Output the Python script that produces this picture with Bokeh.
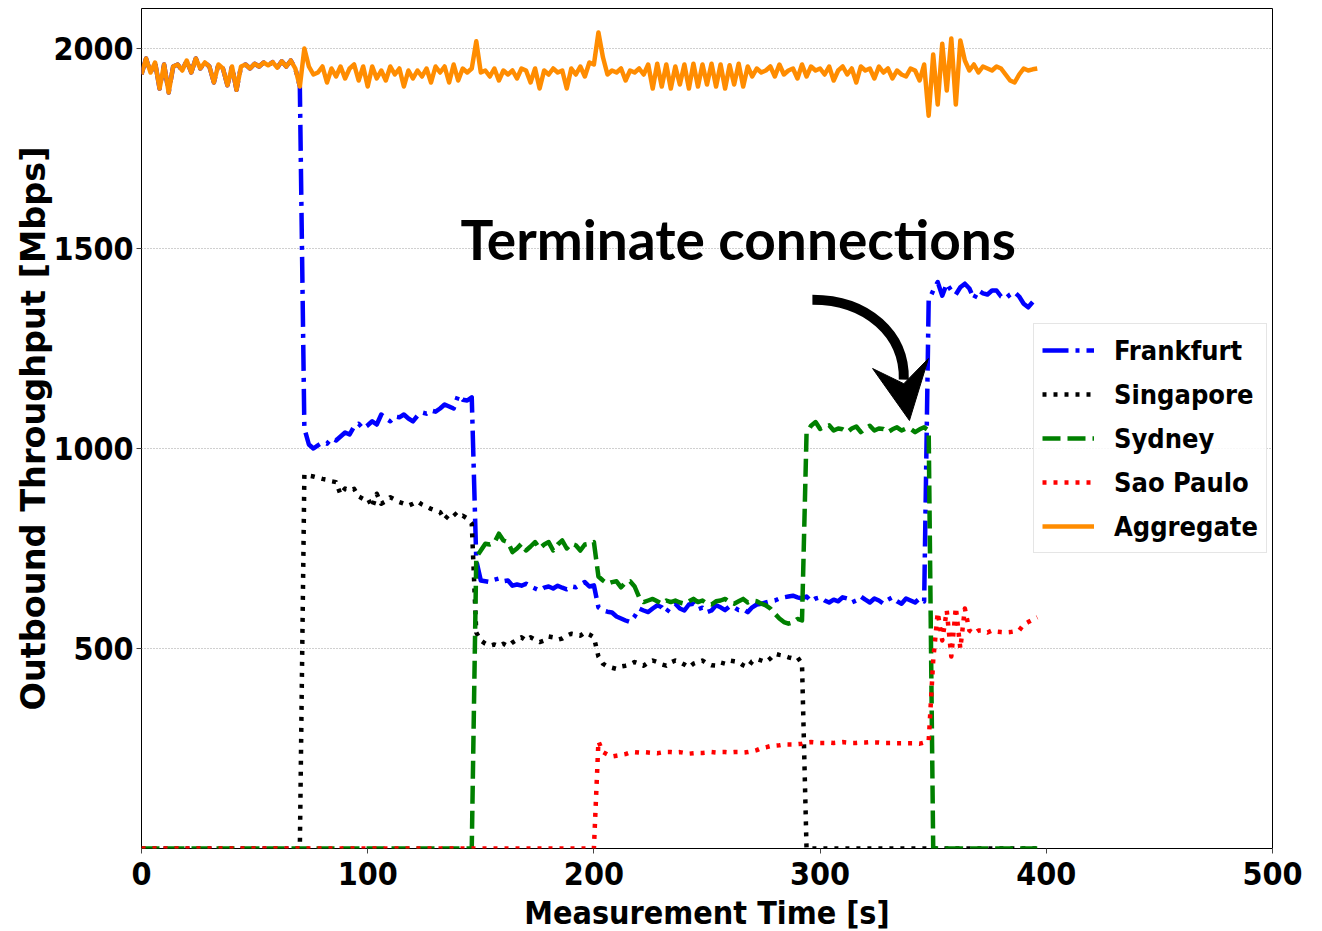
from bokeh.plotting import figure
from bokeh.models import Range1d, FixedTicker, Legend, LegendItem, Label
from bokeh.embed import file_html
from bokeh.resources import INLINE

# ---------------- data (sampled every 2 s) ----------------
t = list(range(0, 397, 2))

frankfurt = [
    1935, 1975, 1940, 1965, 1900, 1960, 1890, 1955, 1960, 1945, 1970, 1940, 1975, 1950, 1965, 1955,
    1915, 1960, 1950, 1908, 1955, 1897, 1955, 1960, 1950, 1962, 1955, 1965, 1958, 1966, 1952, 1968,
    1955, 1970, 1950, 1905,
    1050, 1010, 1000, 1008, 1015, 1012, 1025, 1020, 1030, 1040, 1035, 1055, 1062, 1050, 1058, 1068,
    1060, 1085, 1075, 1068, 1080, 1078, 1085, 1075, 1068, 1082, 1090, 1087, 1095, 1092, 1100, 1110,
    1105, 1100, 1133, 1122, 1120, 1128,
    720, 670, 668, 666, 672, 675, 668, 670, 657, 660, 657, 662, 655, 650, 645, 652,
    655, 650, 657, 652, 648, 655, 653, 660, 666, 655, 658,
    603, 595, 592, 590, 580, 575, 570, 566, 580, 600, 595, 591, 600, 608, 603, 590,
    605, 612, 600, 595, 610, 612, 598, 602, 591, 595, 608, 603, 596, 605, 603, 596,
    598, 591, 603, 610, 612, 615, 618, 620, 625, 628, 630, 632,
    628, 625, 630, 618, 625, 628, 620, 615, 622, 618, 628, 625, 615, 620, 630, 622,
    615, 625, 620, 612, 622, 628, 618, 612, 625, 620, 615, 625, 618,
    1370, 1395, 1416, 1382, 1412, 1395, 1385, 1403, 1412, 1400, 1374, 1395, 1388, 1385, 1395, 1395,
    1380, 1375, 1385, 1391, 1380, 1362, 1353, 1366,
]

singapore = [
    0, 0, 0, 0, 0, 0, 0, 0, 0, 0, 0, 0, 0, 0, 0, 0, 0, 0, 0, 0, 0, 0, 0, 0, 0, 0, 0, 0, 0, 0, 0, 0,
    0, 0, 0, 0,
    935, 932, 930, 927, 924, 922, 918, 916, 885, 900, 895, 899, 880, 874, 876, 853,
    887, 862, 868, 878, 872, 866, 862, 857, 862, 868, 860, 855, 849, 845, 841, 822,
    835, 840, 828, 832, 825, 812,
    540, 520, 512, 507, 510, 506, 512, 506, 515, 522, 528, 520, 528, 522, 516, 520,
    530, 528, 522, 525, 532, 537, 535, 532, 540, 535, 528,
    480, 462, 455, 452, 449, 455, 457, 460, 466, 462, 457, 465, 470, 466, 460, 457,
    465, 470, 466, 460, 453, 462, 466, 470, 462, 458, 457, 465, 462, 470, 468, 466,
    458, 453, 468, 474, 470, 466, 475, 487, 484, 482, 478, 475, 478, 462,
    0, 0, 0, 0, 0, 0, 0, 0, 0, 0, 0, 0, 0, 0, 0, 0, 0, 0, 0, 0, 0, 0, 0, 0, 0, 0, 0, 0, 0, 0, 0, 0,
    0, 0, 0, 0, 0, 0, 0, 0, 0, 0, 0, 0, 0, 0, 0, 0, 0, 0, 0, 0, 0,
]

sydney = [
    0, 0, 0, 0, 0, 0, 0, 0, 0, 0, 0, 0, 0, 0, 0, 0, 0, 0, 0, 0, 0, 0, 0, 0, 0, 0, 0, 0, 0, 0, 0, 0,
    0, 0, 0, 0, 0, 0, 0, 0, 0, 0, 0, 0, 0, 0, 0, 0, 0, 0, 0, 0, 0, 0, 0, 0, 0, 0, 0, 0, 0, 0, 0, 0,
    0, 0, 0, 0, 0, 0, 0, 0, 0, 0,
    728, 745, 762, 760, 765, 787, 770, 766, 741, 750, 762, 745, 755, 766, 750, 760,
    766, 745, 760, 770, 750, 762, 758, 745, 760, 762, 766,
    680, 670, 662, 666, 668, 653, 665, 668, 655, 628, 616, 620, 624, 618, 612, 620,
    616, 620, 615, 612, 618, 624, 616, 620, 612, 610, 618, 620, 624, 616, 612, 618,
    624, 615, 620, 618, 612, 608, 600, 587, 575, 566, 562, 565, 574, 570,
    1037, 1057, 1066, 1049, 1055, 1058, 1045, 1050, 1048, 1041, 1050, 1055, 1041, 1050, 1057, 1045,
    1050, 1049, 1041, 1048, 1053, 1045, 1050, 1049, 1041, 1048, 1053, 1045,
    0, 0, 0, 0, 0, 0, 0, 0, 0, 0, 0, 0, 0, 0, 0, 0, 0, 0, 0, 0, 0, 0, 0, 0,
]

sao_paulo = [
    0, 0, 0, 0, 0, 0, 0, 0, 0, 0, 0, 0, 0, 0, 0, 0, 0, 0, 0, 0, 0, 0, 0, 0, 0, 0, 0, 0, 0, 0, 0, 0,
    0, 0, 0, 0, 0, 0, 0, 0, 0, 0, 0, 0, 0, 0, 0, 0, 0, 0, 0, 0, 0, 0, 0, 0, 0, 0, 0, 0, 0, 0, 0, 0,
    0, 0, 0, 0, 0, 0, 0, 0, 0, 0, 0, 0, 0, 0, 0, 0, 0, 0, 0, 0, 0, 0, 0, 0, 0, 0, 0, 0, 0, 0, 0, 0,
    0, 0, 0, 0, 0,
    268, 241, 235, 230, 232, 234, 236, 240, 241, 240, 241, 240, 239, 238, 240, 241,
    241, 240, 241, 239, 237, 238, 239, 239, 240, 241, 240, 241, 241, 240, 241, 241,
    240, 241, 243, 246, 251, 253, 256, 257, 258, 260, 260, 260, 261, 262, 265, 266,
    265, 264, 264, 265, 264, 265, 266, 265, 264, 264, 265, 265, 266, 265, 265, 264,
    264, 264, 263, 263, 263, 263, 263, 262, 265, 268,
    470, 590, 520, 595, 480, 603, 500, 600, 545, 537, 545, 545, 540, 545, 542, 541,
    540, 541, 543, 545, 560, 566, 572, 578,
]

aggregate = [
    1935, 1975, 1940, 1965, 1900, 1960, 1890, 1955, 1960, 1945, 1970, 1940, 1975, 1950, 1965, 1955,
    1915, 1960, 1950, 1908, 1955, 1897, 1955, 1960, 1950, 1962, 1955, 1965, 1958, 1966, 1952, 1968,
    1955, 1970, 1950, 1905, 2000, 1955, 1935, 1940, 1955, 1915, 1950, 1930, 1955, 1925, 1950, 1960,
    1920, 1955, 1905, 1955, 1925, 1945, 1920, 1955, 1935, 1950, 1905, 1945, 1925, 1945, 1930, 1950,
    1915, 1955, 1940, 1955, 1915, 1960, 1920, 1950, 1940, 1950, 2018, 1940, 1945, 1930, 1950, 1920,
    1945, 1935, 1945, 1925, 1950, 1945, 1915, 1950, 1900, 1945, 1935, 1950, 1940, 1945, 1900, 1950,
    1935, 1955, 1930, 1965, 1960, 2040, 1978, 1935, 1945, 1940, 1950, 1920, 1945, 1940, 1950, 1935,
    1960, 1900, 1962, 1905, 1960, 1900, 1955, 1910, 1960, 1900, 1962, 1905, 1960, 1910, 1962, 1905,
    1960, 1900, 1958, 1910, 1962, 1905, 1955, 1930, 1950, 1940, 1945, 1955, 1930, 1960, 1935, 1945,
    1950, 1925, 1960, 1930, 1955, 1945, 1950, 1935, 1955, 1920, 1945, 1955, 1935, 1950, 1915, 1955,
    1945, 1950, 1925, 1955, 1940, 1950, 1925, 1945, 1935, 1930, 1950, 1945, 1920, 1960, 1832, 1985,
    1860, 2012, 1895, 2025, 1860, 2020, 1970, 1945, 1960, 1940, 1955, 1950, 1945, 1955, 1950, 1935,
    1920, 1915, 1935, 1950, 1945, 1948, 1950,
]

series_names = ["Frankfurt", "Singapore", "Sydney", "Sao Paulo", "Aggregate"]

x_ticks = [0, 100, 200, 300, 400, 500]
y_ticks = [500, 1000, 1500, 2000]

# annotation (data coordinates)
note_text = "Terminate connections"
note_x, note_y = 141.0, 1525
arrow_x0, arrow_y0 = 296.6, 1372
arrow_cx0, arrow_cy0 = 321.0, 1372
arrow_cx1, arrow_cy1 = 337.5, 1285
arrow_x1, arrow_y1 = 337.0, 1172
head_x = [323.2, 339.5, 347.9, 337.0]
head_y = [1200, 1070, 1225, 1162]

# ---------------- figure ----------------
p = figure(frame_width=1131, frame_height=840,
           min_border_left=141, min_border_top=8, min_border_right=40, min_border_bottom=80,
           x_range=Range1d(0, 500), y_range=Range1d(0, 2100),
           output_backend="svg", toolbar_location=None)

p.background_fill_color = "white"
p.outline_line_color = "black"
p.outline_line_width = 1

p.xgrid.grid_line_color = None
p.ygrid.ticker = FixedTicker(ticks=y_ticks)
p.ygrid.grid_line_color = "#a0a0a0"
p.ygrid.grid_line_dash = "1 2"
p.ygrid.grid_line_width = 1

p.xaxis.ticker = FixedTicker(ticks=x_ticks)
p.yaxis.ticker = FixedTicker(ticks=y_ticks)
for ax in (p.xaxis, p.yaxis):
    ax.axis_line_color = None
    ax.minor_tick_line_color = None
    ax.major_tick_in = 0
    ax.major_tick_out = 5
    ax.major_tick_line_color = "#444444"
    ax.major_label_text_font = "DejaVu Sans Condensed"
    ax.major_label_text_font_style = "bold"
    ax.major_label_text_font_size = "32px"
    ax.major_label_text_color = "black"
    ax.axis_label_text_font_style = "bold"
    ax.axis_label_text_color = "black"

p.xaxis.major_label_standoff = 8
p.yaxis.major_label_standoff = 3
p.xaxis.axis_label = "Measurement Time [s]"
p.xaxis.axis_label_text_font = "DejaVu Sans Condensed"
p.xaxis.axis_label_text_font_size = "32px"
p.xaxis.axis_label_standoff = 6
p.yaxis.axis_label = "Outbound Throughput [Mbps]"
p.yaxis.axis_label_text_font = "DejaVu Sans"
p.yaxis.axis_label_text_font_size = "33.5px"
p.yaxis.axis_label_standoff = -3

lw = 4.5
r_fr = p.line(t, frankfurt, line_color="blue", line_width=lw, line_dash="26 7 4 7", line_join="round")
r_sg = p.line(t, singapore, line_color="black", line_width=lw, line_dash="4 7", line_join="round")
r_sy = p.line(t, sydney, line_color="green", line_width=lw, line_dash="18 7", line_join="round")
r_sp = p.line(t, sao_paulo, line_color="red", line_width=lw, line_dash="4 7", line_join="round")
r_ag = p.line(t, aggregate, line_color="darkorange", line_width=lw, line_join="round")

# arrow + note
p.bezier(x0=[arrow_x0], y0=[arrow_y0], x1=[arrow_x1], y1=[arrow_y1],
         cx0=[arrow_cx0], cy0=[arrow_cy0], cx1=[arrow_cx1], cy1=[arrow_cy1],
         line_color="black", line_width=10)
p.patch(head_x, head_y, fill_color="black", line_color="black", line_width=1)
p.add_layout(Label(x=note_x, y=note_y, text=note_text, text_font="Lato",
                   text_font_style="bold", text_font_size="55px", text_color="black",
                   text_baseline="alphabetic", text_align="left"))

legend = Legend(items=[LegendItem(label=n, renderers=[r]) for n, r in
                       zip(series_names, [r_fr, r_sg, r_sy, r_sp, r_ag])],
                location=(892, 295))
legend.label_text_font = "DejaVu Sans Condensed"
legend.label_text_font_style = "bold"
legend.label_text_font_size = "27px"
legend.label_text_color = "black"
legend.glyph_width = 52
legend.glyph_height = 36
legend.label_height = 36
legend.spacing = 8
legend.padding = 8
legend.margin = 0
legend.label_standoff = 20
legend.border_line_color = "#cccccc"
legend.border_line_width = 1
legend.background_fill_alpha = 0.85
p.add_layout(legend)

open("out.html", "w").write(file_html(p, INLINE))
